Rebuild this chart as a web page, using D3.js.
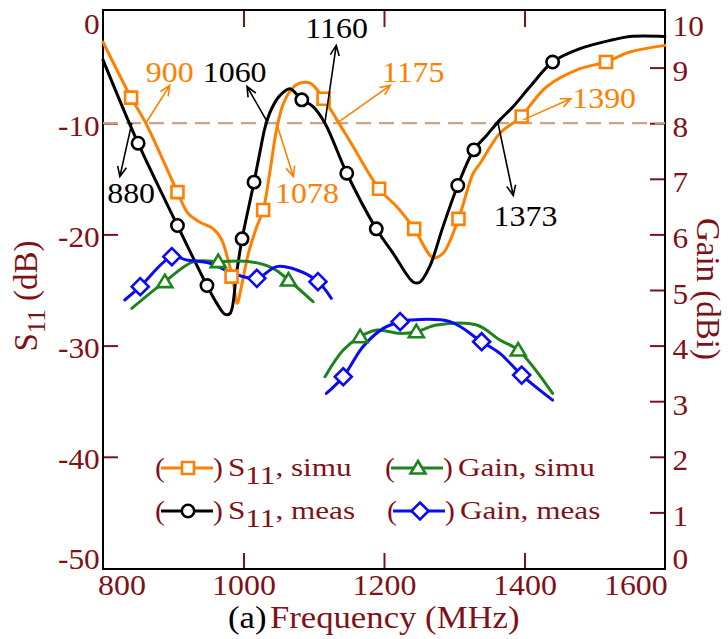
<!DOCTYPE html>
<html>
<head>
<meta charset="utf-8">
<script src="https://cdn.jsdelivr.net/npm/d3@7"></script>
<style>
body { margin: 0; background: #fff; }
svg text { font-family: "Liberation Serif", "Times New Roman", serif; }
</style>
</head>
<body>
<svg id="chart" width="728" height="639"></svg>
<script>
// ---- data: [frequency MHz, value] ----
var s11Simu = [[800,-2.7],[840,-7.7],[861,-10],[906,-16.2],[921,-18.1],[938,-18.9],[957,-19.5],[969,-20.5],[978,-22.3],[985,-24.1],[991,-26.2],[997,-24.7],[1007,-21.7],[1019,-19.3],[1028,-17.8],[1038,-14.2],[1047,-10.6],[1057,-8.2],[1069,-6.9],[1080,-6.4],[1095,-6.4],[1114,-7.8],[1133,-9.7],[1156,-12.1],[1193,-15.9],[1218,-17.5],[1243,-19.5],[1270,-22.1],[1284,-21.7],[1306,-18.6],[1327,-14.5],[1337,-13.6],[1365,-10.9],[1396,-9.4],[1408,-8.4],[1432,-6.7],[1479,-5.1],[1516,-4.5],[1550,-3.6],[1600,-3.0]];
var s11Meas = [[800,-4.3],[850,-11.8],[906,-19.2],[948,-24.6],[962,-26.2],[974,-27.2],[981,-27.1],[990,-23.5],[998,-20.4],[1015,-15.3],[1024,-12.4],[1031,-10.3],[1040,-8.7],[1052,-7.5],[1066,-6.9],[1083,-7.9],[1099,-8.5],[1116,-10],[1147,-14.5],[1189,-19.5],[1213,-21.7],[1242,-24.3],[1251,-24.3],[1265,-22.9],[1284,-19.3],[1305,-15.6],[1328,-12.4],[1346,-11.1],[1365,-9.7],[1384,-8.5],[1408,-6.7],[1440,-4.5],[1479,-3.3],[1526,-2.5],[1550,-2.2],[1600,-2.2]];
var gainSimuLow = [[841,4.67],[888,5.15],[929,5.51],[964,5.51],[1009,5.51],[1042,5.39],[1064,5.18],[1099,4.79]];
var gainSimuHigh = [[1116,3.44],[1142,3.92],[1166,4.16],[1190,4.28],[1208,4.25],[1223,4.22],[1246,4.25],[1275,4.37],[1332,4.37],[1365,4.10],[1391,3.92],[1440,3.14]];
var gainMeasLow = [[831,4.82],[853,5.06],[898,5.6],[919,5.54],[952,5.48],[985,5.30],[1019,5.21],[1047,5.42],[1076,5.36],[1106,5.15],[1125,4.85]];
var gainMeasHigh = [[1118,3.14],[1142,3.44],[1170,3.98],[1199,4.31],[1223,4.43],[1237,4.46],[1294,4.43],[1339,4.07],[1365,3.86],[1396,3.47],[1440,3.02]];

// marker positions
var s11SimuMarks = [[840,-7.7],[906,-16.2],[983,-23.8],[1028,-17.8],[1114,-7.8],[1193,-15.9],[1243,-19.5],[1306,-18.6],[1396,-9.4],[1516,-4.5]];
var s11MeasMarks = [[850,-11.8],[906,-19.2],[948,-24.6],[998,-20.4],[1015,-15.3],[1083,-7.9],[1147,-14.5],[1189,-19.5],[1305,-15.6],[1328,-12.4],[1440,-4.5]];
var gainSimuMarks = [[888,5.15],[964,5.51],[1064,5.18],[1166,4.16],[1246,4.25],[1391,3.92]];
var gainMeasMarks = [[853,5.06],[898,5.6],[1019,5.21],[1106,5.15],[1142,3.44],[1223,4.43],[1339,4.07],[1396,3.47]];

// ticks
var xTicks = [800, 1000, 1200, 1400, 1600];
var leftTicks = [0, -10, -20, -30, -40, -50];
var rightTicks = [0, 1, 2, 3, 4, 5, 6, 7, 8, 9, 10];

// annotations: label, colour key, tail [f,dB], head [f,dB], text start [f,dB]
var notes = [
    ["900", "orange", [861,-10], [895,-6.6], [861,-6.3]],
    ["880", "black", [841,-10], [824,-14.8], [806,-17.2]],
    ["1060", "black", [1033,-9.8], [1005,-6.7], [942,-6.3]],
    ["1078", "orange", [1047,-10], [1071,-14.8], [1045,-17.2]],
    ["1160", "black", [1116,-9.9], [1132,-3.0], [1088,-2.3]],
    ["1175", "orange", [1135,-9.9], [1209,-6.6], [1197,-6.3]],
    ["1373", "black", [1362,-9.9], [1384,-16.5], [1356,-19.2]],
    ["1390", "orange", [1398,-9.7], [1466,-7.8], [1468,-8.6]]
];

var col = { orange: "#ff8000", black: "#000000", green: "#1e821e", blue: "#0a0af5", red: "#7f1119", dash: "#c9a48a" };

var svg = d3.select("#chart");

var x = d3.scaleLinear().domain([800, 1600]).range([103, 665]);
var yL = d3.scaleLinear().domain([-50, 0]).range([568, 12]);
var yR = d3.scaleLinear().domain([0, 10]).range([568, 12]);

// plain hyphen for negative numbers, like the original
var fmt = function(d) { return String(d); };

// ---- axes (ticks point inward) ----
function styleAxis(g) {
    g.select(".domain").remove();
    g.selectAll(".tick line").attr("stroke", col.red).attr("stroke-width", 2);
    g.selectAll(".tick text").attr("fill", col.red).attr("font-size", 29);
}

var bottom = svg.append("g").attr("transform", "translate(0,569)")
    .call(d3.axisBottom(x).tickValues(xTicks).tickSize(-16).tickFormat(fmt))
    .call(styleAxis);
bottom.selectAll(".tick text")
    .attr("y", 26).attr("dy", 0)
    .attr("transform", "scale(1.1,1)")
    .attr("text-anchor", function(d) { return d == 800 ? "start" : d == 1600 ? "end" : "middle"; })
    .attr("x", function(d) { return d == 800 ? -5 : d == 1600 ? 2 : 0; });
bottom.selectAll(".tick line").filter(function(d) { return d == 800 || d == 1600; }).remove();

var top = svg.append("g").attr("transform", "translate(0,10)")
    .call(d3.axisTop(x).tickValues([1000, 1200, 1400]).tickSize(-17).tickFormat(""))
    .call(styleAxis);

var left = svg.append("g").attr("transform", "translate(103,0)")
    .call(d3.axisLeft(yL).tickValues(leftTicks).tickSize(-15).tickFormat(fmt))
    .call(styleAxis);
left.selectAll(".tick text")
    .attr("x", -3).attr("dy", 0)
    .attr("y", function(d) { return d == 0 ? 21 : d == -50 ? 0 : 12; })
    .attr("transform", "scale(1.08,1)");
left.selectAll(".tick line").filter(function(d) { return d == 0 || d == -50; }).remove();

var right = svg.append("g").attr("transform", "translate(665,0)")
    .call(d3.axisRight(yR).tickValues(rightTicks).tickSize(-15).tickFormat(fmt))
    .call(styleAxis);
right.selectAll(".tick text")
    .attr("x", 7).attr("dy", 0)
    .attr("y", function(d) { return d == 10 ? 23 : d == 0 ? 0 : 13; })
    .attr("transform", "scale(1.08,1)");
right.selectAll(".tick line").filter(function(d) { return d == 0 || d == 10; }).remove();

// frame
svg.append("rect")
    .attr("x", 103).attr("y", 10).attr("width", 562).attr("height", 559)
    .attr("fill", "none").attr("stroke", "#000").attr("stroke-width", 2);

// -10 dB reference
svg.append("line")
    .attr("x1", x(800)).attr("x2", x(1600)).attr("y1", yL(-10)).attr("y2", yL(-10))
    .attr("stroke", col.dash).attr("stroke-width", 2.2).attr("stroke-dasharray", "15,8");

// ---- curves ----
var lineL = d3.line().x(function(d) { return x(d[0]); }).y(function(d) { return yL(d[1]); })
    .curve(d3.curveCatmullRom.alpha(0.5));
var lineR = d3.line().x(function(d) { return x(d[0]); }).y(function(d) { return yR(d[1]); })
    .curve(d3.curveCatmullRom.alpha(0.5));

function drawLine(data, gen, color) {
    svg.append("path").datum(data).attr("d", gen)
        .attr("fill", "none").attr("stroke", color).attr("stroke-width", 3)
        .attr("stroke-linejoin", "round").attr("stroke-linecap", "round");
}
drawLine(s11Simu, lineL, col.orange);
drawLine(s11Meas, lineL, col.black);
drawLine(gainSimuLow, lineR, col.green);
drawLine(gainSimuHigh, lineR, col.green);
drawLine(gainMeasLow, lineR, col.blue);
drawLine(gainMeasHigh, lineR, col.blue);

// ---- markers ----
var shapes = {
    square: "M-6,-6H6V6H-6Z",
    circle: d3.symbol(d3.symbolCircle, 120)(),
    triangle: "M0,-7L7.5,5.5H-7.5Z",
    diamond: "M0,-8.5L8.5,0L0,8.5L-8.5,0Z"
};
function drawMarks(data, yScale, shape, color) {
    svg.append("g").selectAll("path").data(data).enter().append("path")
        .attr("transform", function(d) { return "translate(" + x(d[0]) + "," + yScale(d[1]) + ")"; })
        .attr("d", shapes[shape])
        .attr("fill", "#fff").attr("stroke", color).attr("stroke-width", 2.6);
}
drawMarks(s11SimuMarks, yL, "square", col.orange);
drawMarks(s11MeasMarks, yL, "circle", col.black);
drawMarks(gainSimuMarks, yR, "triangle", col.green);
drawMarks(gainMeasMarks, yR, "diamond", col.blue);

// ---- annotations ----
notes.forEach(function(n) {
    var c = col[n[1]];
    var x1 = x(n[2][0]), y1 = yL(n[2][1]), x2 = x(n[3][0]), y2 = yL(n[3][1]);
    var a = Math.atan2(y2 - y1, x2 - x1);
    var h = 11, s = 0.42;
    svg.append("path")
        .attr("d", "M" + x1 + "," + y1 + "L" + x2 + "," + y2 +
            "M" + (x2 - h * Math.cos(a - s)) + "," + (y2 - h * Math.sin(a - s)) + "L" + x2 + "," + y2 +
            "L" + (x2 - h * Math.cos(a + s)) + "," + (y2 - h * Math.sin(a + s)))
        .attr("fill", "none").attr("stroke", c).attr("stroke-width", 1.6);
    svg.append("text")
        .attr("transform", "translate(" + x(n[4][0]) + "," + yL(n[4][1]) + ") scale(1.1,1)")
        .attr("font-size", 29).attr("fill", c).text(n[0]);
});

// ---- legend ----
var legend = [
    { sym: "square", color: col.orange, name: "S", sub: "11", rest: ", simu", cx: 155, cy: 468 },
    { sym: "circle", color: col.black, name: "S", sub: "11", rest: ", meas", cx: 155, cy: 511 },
    { sym: "triangle", color: col.green, name: "Gain, simu", sub: "", rest: "", cx: 385, cy: 468 },
    { sym: "diamond", color: col.blue, name: "Gain, meas", sub: "", rest: "", cx: 387, cy: 511 }
];
legend.forEach(function(l) {
    var g = svg.append("g");
    g.append("text").attr("transform", "translate(" + l.cx + "," + (l.cy + 9) + ") scale(1.1,1)")
        .attr("font-size", 27).attr("fill", col.red).text("(");
    g.append("line").attr("x1", l.cx + 6).attr("x2", l.cx + 58).attr("y1", l.cy).attr("y2", l.cy)
        .attr("stroke", l.color).attr("stroke-width", 3);
    g.append("path").attr("transform", "translate(" + (l.cx + 33) + "," + l.cy + ")")
        .attr("d", shapes[l.sym]).attr("fill", "#fff").attr("stroke", l.color).attr("stroke-width", 2.6);
    g.append("text").attr("transform", "translate(" + (l.cx + 58) + "," + (l.cy + 9) + ") scale(1.1,1)")
        .attr("font-size", 27).attr("fill", col.red).text(")");
    var t = g.append("text").attr("transform", "translate(" + (l.cx + 73) + "," + (l.cy + 8) + ") scale(1.2,1)")
        .attr("font-size", 26).attr("fill", col.red);
    t.append("tspan").text(l.name);
    if (l.sub) {
        t.append("tspan").attr("dy", 8).text(l.sub);
        t.append("tspan").attr("dy", -8).text(l.rest);
    }
});

// ---- axis titles ----
var yt = svg.append("text").attr("transform", "translate(37,296) rotate(-90)")
    .attr("text-anchor", "middle").attr("font-size", 33).attr("fill", col.red);
yt.append("tspan").text("S");
yt.append("tspan").attr("font-size", 25).attr("dy", 8).text("11");
yt.append("tspan").attr("dy", -8).text(" (dB)");

svg.append("text").attr("transform", "translate(697,289) rotate(90)")
    .attr("text-anchor", "middle").attr("font-size", 33).attr("fill", col.red)
    .text("Gain (dBi)");

var xt = svg.append("text").attr("transform", "translate(228,628) scale(1.12,1)")
    .attr("font-size", 31);
xt.append("tspan").attr("fill", "#000").text("(a)");
xt.append("tspan").attr("fill", col.red).attr("dx", 3).text("Frequency (MHz)");
</script>
</body>
</html>
